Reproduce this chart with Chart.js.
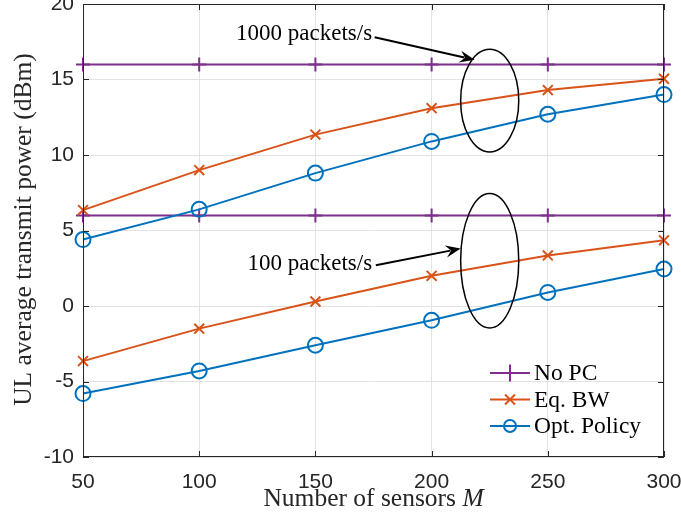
<!DOCTYPE html>
<html>
<head>
<meta charset="utf-8">
<script src="https://cdn.jsdelivr.net/npm/chart.js@4.4.1/dist/chart.umd.min.js"></script>
<style>
  html, body { margin: 0; padding: 0; background: #fff; }
  #wrap { width: 681px; height: 527px; }
</style>
</head>
<body>
<div id="wrap"><canvas id="chart" width="681" height="527"></canvas></div>
<script>
// data
const sensors = [50, 100, 150, 200, 250, 300];
const noPC1000 = [16, 16, 16, 16, 16, 16];
const eqBW1000 = [6.35, 9.0, 11.35, 13.1, 14.3, 15.05];
const opt1000 = [4.4, 6.4, 8.8, 10.9, 12.7, 14.0];
const noPC100 = [6, 6, 6, 6, 6, 6];
const eqBW100 = [-3.65, -1.5, 0.3, 2.0, 3.35, 4.35];
const opt100 = [-5.8, -4.3, -2.6, -0.95, 0.9, 2.45];
const yTicks = [-10, -5, 0, 5, 10, 15, 20];
const xTicks = [50, 100, 150, 200, 250, 300];
const legendLabels = ["No PC", "Eq. BW", "Opt. Policy"];

const purple = "#7E2F8E";
const orange = "#D95319";
const blue = "#0072BD";
const axisColor = "#262626";
const serif = "'Liberation Serif', 'Times New Roman', serif";
const sans = "'Liberation Sans', Arial, sans-serif";

function pts(ys) {
  return sensors.map((x, i) => ({ x: x, y: ys[i] }));
}

function series(ys, color, style) {
  return {
    data: pts(ys),
    borderColor: color,
    backgroundColor: "rgba(0,0,0,0)",
    borderWidth: 2,
    pointStyle: style,
    pointRadius: style === "circle" ? 7.5 : 7,
    pointBorderWidth: 2,
    pointBorderColor: color,
    pointBackgroundColor: "rgba(0,0,0,0)",
    tension: 0,
    clip: false
  };
}

const styles = [
  { color: purple, style: "cross" },
  { color: orange, style: "crossRot" },
  { color: blue, style: "circle" }
];

function arrow(ctx, x1, y1, x2, y2) {
  const a = Math.atan2(y2 - y1, x2 - x1);
  const len = 15, w = 6;
  ctx.beginPath();
  ctx.moveTo(x1, y1);
  ctx.lineTo(x2 - Math.cos(a) * len * 0.7, y2 - Math.sin(a) * len * 0.7);
  ctx.stroke();
  ctx.beginPath();
  ctx.moveTo(x2, y2);
  ctx.lineTo(x2 - Math.cos(a) * len + Math.sin(a) * w, y2 - Math.sin(a) * len - Math.cos(a) * w);
  ctx.lineTo(x2 - Math.cos(a) * len * 0.65, y2 - Math.sin(a) * len * 0.65);
  ctx.lineTo(x2 - Math.cos(a) * len - Math.sin(a) * w, y2 - Math.sin(a) * len + Math.cos(a) * w);
  ctx.closePath();
  ctx.fill();
}

const decor = {
  id: "decor",
  afterDraw(chart) {
    const ctx = chart.ctx;
    const ca = chart.chartArea;
    const xs = chart.scales.x, ys = chart.scales.y;
    ctx.save();

    // box and inner ticks
    ctx.strokeStyle = axisColor;
    ctx.lineWidth = 1;
    ctx.strokeRect(ca.left + 0.5, ca.top + 0.5, ca.right - ca.left - 1, ca.bottom - ca.top - 1);
    ctx.beginPath();
    xTicks.forEach(v => {
      const p = Math.round(xs.getPixelForValue(v)) + 0.5;
      ctx.moveTo(p, ca.bottom); ctx.lineTo(p, ca.bottom - 6);
      ctx.moveTo(p, ca.top); ctx.lineTo(p, ca.top + 6);
    });
    yTicks.forEach(v => {
      const p = Math.round(ys.getPixelForValue(v)) + 0.5;
      ctx.moveTo(ca.left, p); ctx.lineTo(ca.left + 6, p);
      ctx.moveTo(ca.right, p); ctx.lineTo(ca.right - 6, p);
    });
    ctx.stroke();

    // ellipses
    ctx.strokeStyle = "#000";
    ctx.fillStyle = "#000";
    ctx.lineWidth = 1.5;
    const ell = [[225, 13.6, 12.5, 3.4], [225, 3.0, 12.5, 4.45]];
    ell.forEach(e => {
      const cx = xs.getPixelForValue(e[0]);
      const cy = ys.getPixelForValue(e[1]);
      const rx = xs.getPixelForValue(e[0] + e[2]) - cx;
      const ry = cy - ys.getPixelForValue(e[1] + e[3]);
      ctx.beginPath();
      ctx.ellipse(cx, cy, rx, ry, 0, 0, Math.PI * 2);
      ctx.stroke();
    });

    // arrows and labels
    ctx.lineWidth = 2;
    arrow(ctx, xs.getPixelForValue(175.5), ys.getPixelForValue(17.8),
               xs.getPixelForValue(218.5), ys.getPixelForValue(16.3));
    arrow(ctx, xs.getPixelForValue(176), ys.getPixelForValue(2.7),
               xs.getPixelForValue(212.5), ys.getPixelForValue(3.8));
    ctx.font = "23px " + serif;
    ctx.textAlign = "right";
    ctx.textBaseline = "alphabetic";
    ctx.fillText("1000 packets/s", xs.getPixelForValue(174.4), ys.getPixelForValue(17.6));
    ctx.fillText("100 packets/s", xs.getPixelForValue(174.4), ys.getPixelForValue(2.4));

    // legend
    const lx = 490, ly = [373, 399.5, 426];
    styles.forEach((s, i) => {
      ctx.strokeStyle = s.color;
      ctx.lineWidth = 2;
      ctx.beginPath();
      ctx.moveTo(lx, ly[i]); ctx.lineTo(lx + 40, ly[i]);
      ctx.stroke();
      const m = lx + 20, y = ly[i];
      ctx.beginPath();
      if (s.style === "cross") {
        ctx.moveTo(m - 8, y); ctx.lineTo(m + 8, y);
        ctx.moveTo(m, y - 8.5); ctx.lineTo(m, y + 8.5);
      } else if (s.style === "crossRot") {
        ctx.moveTo(m - 5, y - 5); ctx.lineTo(m + 5, y + 5);
        ctx.moveTo(m - 5, y + 5); ctx.lineTo(m + 5, y - 5);
      } else {
        ctx.arc(m, y, 6, 0, Math.PI * 2);
      }
      ctx.stroke();
      ctx.fillStyle = "#000";
      ctx.font = "23.5px " + serif;
      ctx.textAlign = "left";
      ctx.textBaseline = "middle";
      ctx.fillText(legendLabels[i], lx + 44, y + 1);
    });

    // axis titles
    ctx.fillStyle = axisColor;
    ctx.textBaseline = "alphabetic";
    const t1 = "Number of sensors ";
    ctx.font = "25.5px " + serif;
    const w1 = ctx.measureText(t1).width;
    ctx.font = "italic 25.5px " + serif;
    const w2 = ctx.measureText("M").width;
    const tx = (ca.left + ca.right) / 2 - (w1 + w2) / 2;
    ctx.textAlign = "left";
    ctx.font = "25.5px " + serif;
    ctx.fillText(t1, tx, 506);
    ctx.font = "italic 25.5px " + serif;
    ctx.fillText("M", tx + w1, 506);

    ctx.translate(31, (ca.top + ca.bottom) / 2 - 1);
    ctx.rotate(-Math.PI / 2);
    ctx.font = "25.5px " + serif;
    ctx.textAlign = "center";
    ctx.fillText("UL average transmit power (dBm)", 0, 0);
    ctx.restore();
  }
};

new Chart(document.getElementById("chart"), {
  type: "line",
  data: {
    datasets: [
      series(noPC1000, purple, "cross"),
      series(eqBW1000, orange, "crossRot"),
      series(opt1000, blue, "circle"),
      series(noPC100, purple, "cross"),
      series(eqBW100, orange, "crossRot"),
      series(opt100, blue, "circle")
    ]
  },
  options: {
    responsive: false,
    animation: false,
    layout: { autoPadding: false, padding: { top: 4, right: 17, left: 0, bottom: 0 } },
    plugins: { legend: { display: false }, tooltip: { enabled: false } },
    scales: {
      x: {
        type: "linear",
        min: 50, max: 300,
        afterBuildTicks: s => { s.ticks = xTicks.map(v => ({ value: v })); },
        afterFit: s => {
          s.height = 70;
          s.paddingLeft = 0; s.paddingRight = 0;
        },
        grid: { color: "#e3e3e3", drawTicks: false },
        border: { display: false },
        ticks: { color: axisColor, font: { family: sans, size: 21 }, padding: 13 }
      },
      y: {
        min: -10, max: 20,
        afterBuildTicks: s => { s.ticks = yTicks.map(v => ({ value: v })); },
        afterFit: s => {
          s.width = 83;
          s.paddingTop = 0; s.paddingBottom = 0;
        },
        grid: { color: "#e3e3e3", drawTicks: false },
        border: { display: false },
        ticks: { color: axisColor, font: { family: sans, size: 21 }, padding: 9 }
      }
    }
  },
  plugins: [decor]
});
</script>
</body>
</html>
